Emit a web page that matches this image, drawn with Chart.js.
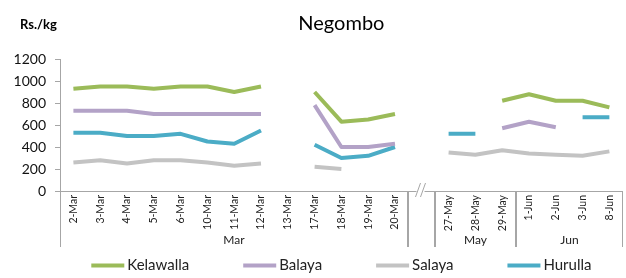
<!DOCTYPE html>
<html>
<head>
<meta charset="utf-8">
<script src="https://cdn.jsdelivr.net/npm/chart.js@4"></script>
<style>
  html, body { margin: 0; padding: 0; background: #fff; }
  #wrap { width: 626px; height: 278px; }
</style>
</head>
<body>
<div id="wrap"><canvas id="chart"></canvas></div>
<script>
// ===== data =====
const labels = ['2-Mar', '3-Mar', '4-Mar', '5-Mar', '6-Mar', '10-Mar', '11-Mar', '12-Mar', '13-Mar',
  '17-Mar', '18-Mar', '19-Mar', '20-Mar', '', '27-May', '28-May', '29-May', '1-Jun', '2-Jun', '3-Jun', '8-Jun'];
const kelawalla = [930, 950, 950, 930, 950, 950, 900, 950, null, 900, 630, 650, 700, null, null, null, 820, 880, 820, 820, 760];
const balaya    = [730, 730, 730, 700, 700, 700, 700, 700, null, 780, 400, 400, 430, null, null, null, 570, 630, 580, null, null];
const salaya    = [260, 280, 250, 280, 280, 260, 230, 250, null, 220, 200, null, null, null, 350, 330, 370, 340, 330, 320, 360];
const hurulla   = [530, 530, 500, 500, 520, 450, 430, 550, null, 420, 300, 320, 400, null, 520, 520, null, null, null, 670, 670];
const groupNames = ['Mar', '', 'May', 'Jun'];
const groupSizes = [13, 1, 3, 4];
const yMax = 1200;
const yStep = 200;

const FONT = 'Lato, "Open Sans", sans-serif';
const axisColor = '#a6a6a6';

// ===== extra drawing: title, groups, break mark, legend =====
const decor = {
  id: 'decor',
  afterDraw(chart) {
    const { ctx, chartArea } = chart;
    const x = chart.scales.x;
    const half = (x.getPixelForValue(1) - x.getPixelForValue(0)) / 2;
    ctx.save();

    // title + unit
    ctx.fillStyle = '#000';
    ctx.textBaseline = 'middle';
    ctx.font = '20px ' + FONT;
    ctx.textAlign = 'center';
    ctx.fillText('Negombo', (chartArea.left + chartArea.right) / 2, 24);
    ctx.font = 'bold 13px ' + FONT;
    ctx.textAlign = 'left';
    ctx.fillText('Rs./kg', 20, 25);

    // group separators and names
    ctx.strokeStyle = axisColor;
    ctx.lineWidth = 1;
    ctx.font = '12px ' + FONT;
    ctx.textAlign = 'center';
    ctx.fillStyle = '#222';
    let start = 0;
    groupSizes.forEach((n, i) => {
      const left = Math.round(x.getPixelForValue(start) - half) + 0.5;
      const right = Math.round(x.getPixelForValue(start + n - 1) + half) - 0.5;
      [left, right].forEach(px => {
        ctx.beginPath();
        ctx.moveTo(px, chartArea.bottom);
        ctx.lineTo(px, chartArea.bottom + 56);
        ctx.stroke();
      });
      if (groupNames[i]) {
        ctx.fillText(groupNames[i], (left + right) / 2, chartArea.bottom + 49);
      } else {
        // axis break "//"
        const cx = (left + right) / 2;
        const y0 = chartArea.bottom;
        ctx.fillStyle = '#fff';
        ctx.fillRect(cx - 5, y0 - 2, 8, 4);
        ctx.fillStyle = '#222';
        ctx.beginPath();
        ctx.moveTo(cx - 6, y0 + 6); ctx.lineTo(cx - 1, y0 - 8);
        ctx.moveTo(cx - 1, y0 + 6); ctx.lineTo(cx + 4, y0 - 8);
        ctx.stroke();
      }
      start += n;
    });

    // legend
    const items = chart.data.datasets;
    const lineW = 33, gapText = 3, gapItem = 54;
    ctx.font = '15px ' + FONT;
    ctx.textAlign = 'left';
    const widths = items.map(d => lineW + gapText + ctx.measureText(d.label).width);
    const total = widths.reduce((a, b) => a + b, 0) + gapItem * (items.length - 1);
    let lx = (chartArea.left + chartArea.right) / 2 - total / 2;
    const ly = 265.5;
    items.forEach((d, i) => {
      ctx.strokeStyle = d.borderColor;
      ctx.lineWidth = 4;
      ctx.beginPath();
      ctx.moveTo(lx, ly);
      ctx.lineTo(lx + lineW, ly);
      ctx.stroke();
      ctx.fillStyle = '#222';
      ctx.fillText(d.label, lx + lineW + gapText, ly);
      lx += widths[i] + gapItem;
    });
    ctx.restore();
  }
};

function series(label, data, color) {
  return {
    label: label,
    data: data,
    borderColor: color,
    backgroundColor: color,
    borderWidth: 4,
    pointRadius: 0,
    pointHoverRadius: 0,
    tension: 0,
    spanGaps: false,
    borderJoinStyle: 'round'
  };
}

new Chart(document.getElementById('chart'), {
  type: 'line',
  data: {
    labels: labels,
    datasets: [
      series('Kelawalla', kelawalla, '#9bbb59'),
      series('Balaya', balaya, '#b3a2c7'),
      series('Salaya', salaya, '#c3c3c3'),
      series('Hurulla', hurulla, '#4bacc6')
    ]
  },
  options: {
    responsive: true,
    maintainAspectRatio: false,
    animation: false,
    layout: { padding: { top: 59, right: 1, bottom: 0, left: 0 } },
    plugins: {
      legend: { display: false },
      title: { display: false },
      tooltip: { enabled: false }
    },
    scales: {
      x: {
        offset: true,
        grid: { display: false, drawTicks: false },
        border: { display: true, color: axisColor },
        ticks: {
          autoSkip: false,
          minRotation: 90,
          maxRotation: 90,
          padding: 4,
          color: '#222',
          font: { family: FONT, size: 10.5 }
        },
        afterFit(s) { s.height = 87; }
      },
      y: {
        min: 0,
        max: yMax,
        grid: { drawOnChartArea: false, drawTicks: true, tickLength: 5, color: axisColor },
        border: { display: true, color: axisColor },
        ticks: {
          stepSize: yStep,
          padding: 9,
          color: '#111',
          font: { family: FONT, size: 14 },
          callback: v => String(v)
        },
        afterFit(s) { s.width = 60; }
      }
    }
  },
  plugins: [decor]
});
</script>
</body>
</html>
